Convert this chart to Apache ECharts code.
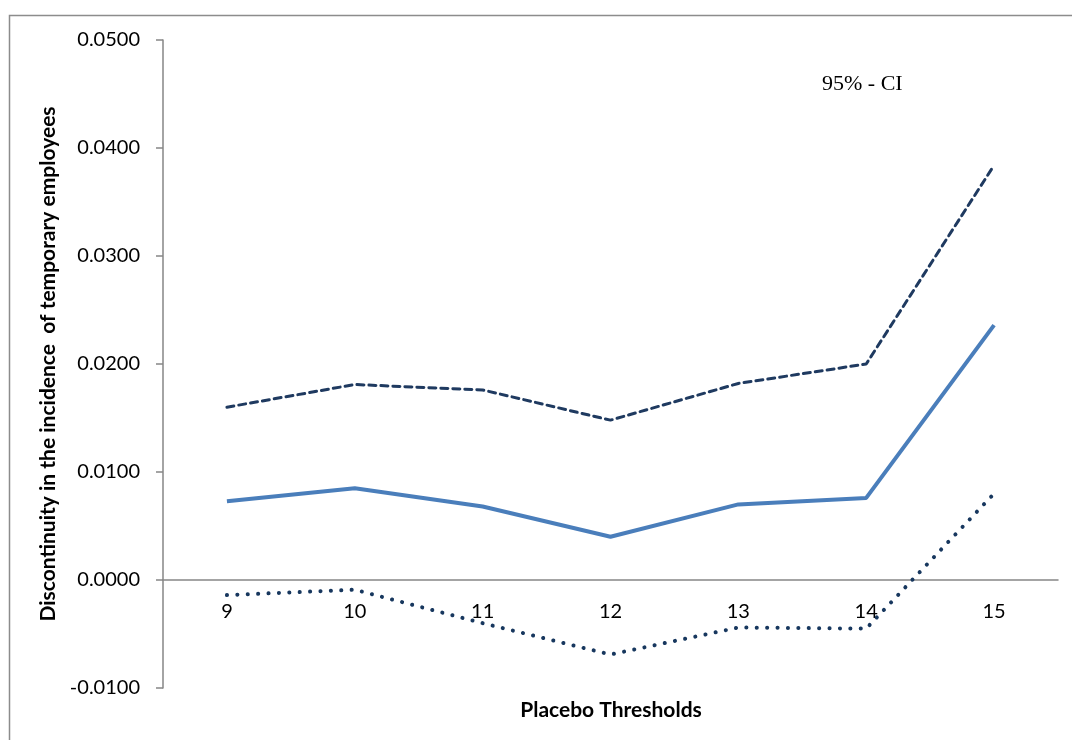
<!DOCTYPE html>
<html>
<head>
<meta charset="utf-8">
<script src="https://cdn.jsdelivr.net/npm/echarts@6/dist/echarts.min.js"></script>
<style>
  html, body { margin: 0; padding: 0; background: #fff; }
  #chart { width: 1072px; height: 740px; }
</style>
</head>
<body>
<div id="chart"></div>
<script>
const thresholds = ["9", "10", "11", "12", "13", "14", "15"];
const estimate = [0.0073, 0.0085, 0.0068, 0.0040, 0.0070, 0.0076, 0.0236];
const upperCI = [0.0160, 0.0181, 0.0176, 0.0148, 0.0182, 0.0200, 0.0384];
const lowerCI = [-0.0014, -0.0009, -0.0040, -0.0069, -0.0044, -0.0045, 0.0080];

const tickFont = "Lato, 'Open Sans', sans-serif";

let myChart = echarts.init(document.getElementById("chart"));
let option = {
  animation: false,
  backgroundColor: "#fff",
  grid: { left: 163, right: 14, top: 40, bottom: 52, containLabel: false, outerBoundsMode: "none" },
  graphic: [
    {
      type: "rect",
      shape: { x: 9.5, y: 15.5, width: 1100, height: 800 },
      style: { fill: "none", stroke: "#8c8c8c", lineWidth: 1.5 },
      silent: true
    },
    {
      type: "text",
      left: 822,
      top: 73,
      style: {
        text: "95% - CI",
        font: "22px 'Liberation Serif', 'Times New Roman', serif",
        fill: "#000"
      }
    },
    {
      // x axis title sits below the plot, not under the zero line
      type: "text",
      x: 611,
      y: 710,
      style: {
        text: "Placebo Thresholds",
        font: "bold 21px " + tickFont,
        fill: "#000",
        align: "center",
        verticalAlign: "middle"
      }
    }
  ],
  xAxis: {
    type: "category",
    data: thresholds,
    boundaryGap: true,
    offset: -108, // put the axis on the zero line (grid height 648, zero 108 px up)
    axisLine: { onZero: false, lineStyle: { color: "#868686", width: 1.5 } },
    axisTick: { show: false },
    axisLabel: { margin: 22, fontSize: 20, color: "#000", fontFamily: tickFont },
    splitLine: { show: false }
  },
  yAxis: {
    type: "value",
    min: -0.01,
    max: 0.05,
    interval: 0.01,
    name: "Discontinuity in the incidence  of temporary employees",
    nameLocation: "middle",
    nameGap: 96,
    nameTextStyle: {
      fontFamily: tickFont,
      fontWeight: "bold",
      fontSize: 21,
      color: "#000"
    },
    axisLine: { show: true, lineStyle: { color: "#868686", width: 1.5 } },
    axisTick: { show: true, length: 7, lineStyle: { color: "#868686", width: 1.5 } },
    axisLabel: {
      margin: 23,
      fontSize: 20,
      color: "#000",
      fontFamily: tickFont,
      formatter: v => v.toFixed(4)
    },
    splitLine: { show: false }
  },
  series: [
    {
      name: "upper",
      type: "line",
      data: upperCI,
      symbol: "none",
      lineStyle: { color: "#1f3a60", width: 3, type: [7, 5], cap: "round" }
    },
    {
      name: "estimate",
      type: "line",
      data: estimate,
      symbol: "none",
      lineStyle: { color: "#4a7ebb", width: 4 }
    },
    {
      name: "lower",
      type: "line",
      data: lowerCI,
      symbol: "none",
      lineStyle: { color: "#17375e", width: 4, type: [0.1, 10.3], cap: "round" }
    }
  ]
};
myChart.setOption(option);
window.addEventListener("resize", function() {
  myChart.resize();
});
</script>
</body>
</html>
